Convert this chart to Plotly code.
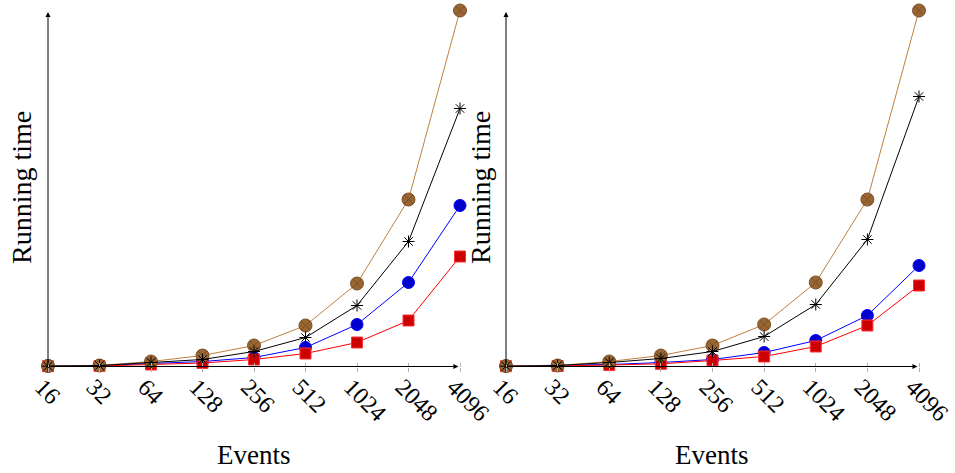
import plotly.graph_objects as go

# ---------------- data ----------------
events = ["16", "32", "64", "128", "256", "512", "1024", "2048", "4096"]

left_blue = [1, 1, 3, 5, 9, 19, 42, 84, 161]
left_red = [0.3, 0.5, 2, 3.5, 7, 13, 24, 46, 110]
left_brown = [0.5, 1, 5, 11, 21, 41, 83, 167, 356]
left_black = [0.3, 1, 4, 7, 15, 29, 61, 125, 258]

right_blue = [0.5, 1, 2, 4, 7, 14, 26, 51, 101]
right_red = [0.3, 0.5, 1.5, 2.7, 6, 10, 20, 41, 81]
right_brown = [0.5, 1, 5, 11, 21, 42, 84, 167, 356]
right_black = [0.3, 1, 4, 8, 15, 30, 62, 127, 270]

# ---------------- styles ----------------
W, H = 955, 473
FONT = "Liberation Serif"
BROWN_LINE = "#BF8040"
BROWN_FILL = "#996633"
idx = list(range(len(events)))

Y0_PX = 366.5
YRANGE = [-(H - Y0_PX), Y0_PX]
AXIS_POS = (H - Y0_PX) / H

fig = go.Figure()


def add_series(xa, ya, blue, red, brown, black):
    common = dict(x=idx, mode="lines+markers", xaxis=xa, yaxis=ya,
                  showlegend=False, cliponaxis=False, hoverinfo="skip")
    fig.add_trace(go.Scatter(y=blue, line=dict(color="#0000FF", width=1),
                             marker=dict(symbol="circle", size=12, color="#0000CC",
                                         line=dict(color="#0000FF", width=1)), **common))
    fig.add_trace(go.Scatter(y=red, line=dict(color="#FF0000", width=1),
                             marker=dict(symbol="square", size=11, color="#CC0000",
                                         line=dict(color="#FF3333", width=1)), **common))
    fig.add_trace(go.Scatter(y=brown, line=dict(color=BROWN_LINE, width=1),
                             marker=dict(symbol="circle-x", size=13, color=BROWN_FILL,
                                         line=dict(color="#7a4f25", width=1)), **common))
    fig.add_trace(go.Scatter(y=black, line=dict(color="black", width=1),
                             marker=dict(symbol="asterisk-open", size=10, color="black",
                                         line=dict(color="black", width=1)), **common))


add_series("x", "y", left_blue, left_red, left_brown, left_black)
add_series("x2", "y2", right_blue, right_red, right_brown, right_black)

# pixel geometry of the two panels
panels = [
    dict(x0=48.0, x1=460.0, dom=(0.0, 0.5)),
    dict(x0=506.0, x1=919.0, dom=(0.5, 1.0)),
]
layout = {}
for k, p in enumerate(panels):
    step = (p["x1"] - p["x0"]) / 8.0
    lo_px, hi_px = p["dom"][0] * W, p["dom"][1] * W
    xr = [(lo_px - p["x0"]) / step, (hi_px - p["x0"]) / step]
    sfx = "" if k == 0 else str(k + 1)
    layout["xaxis" + sfx] = dict(
        domain=list(p["dom"]), range=xr, anchor="free", position=AXIS_POS,
        tickmode="array", tickvals=idx, ticktext=events, tickangle=45,
        ticks="outside", ticklen=4, tickcolor="#b0b0b0", tickwidth=1,
        ticklabelstandoff=-8, ticklabelshift=-6, ticklabeloverflow="allow",
        showline=False, showgrid=False, zeroline=False, automargin=False,
        tickfont=dict(family=FONT, size=24, color="black"), fixedrange=True,
    )
    layout["yaxis" + sfx] = dict(
        domain=[0, 1], range=YRANGE, anchor="x" + sfx, automargin=False,
        showticklabels=False, ticks="", showline=False, showgrid=False,
        zeroline=False, fixedrange=True,
    )
    # inside half of the ticks
    ov = "xaxis" + str(k + 3)
    layout[ov] = dict(
        overlaying="x" + sfx, range=xr, anchor="free", position=AXIS_POS,
        tickmode="array", tickvals=idx, ticks="inside", ticklen=4,
        tickcolor="#b0b0b0", tickwidth=1, showticklabels=False, automargin=False,
        showline=False, showgrid=False, zeroline=False, fixedrange=True,
    )

fig.update_layout(
    width=W, height=H, margin=dict(l=0, r=0, t=0, b=0, autoexpand=False),
    paper_bgcolor="white", plot_bgcolor="white", showlegend=False,
    **layout,
)
# dummy traces to activate overlay axes
fig.add_trace(go.Scatter(x=[], y=[], xaxis="x3", yaxis="y", showlegend=False))
fig.add_trace(go.Scatter(x=[], y=[], xaxis="x4", yaxis="y2", showlegend=False))

annotations = []
for k, sfx in enumerate(["", "2"]):
    xa, ya = "x" + sfx, "y" + sfx
    # y axis arrow
    annotations.append(dict(x=0, y=Y0_PX - 12, ax=0, ay=0, xref=xa, yref=ya,
                            axref=xa, ayref=ya, showarrow=True, arrowhead=2,
                            arrowsize=1, arrowwidth=1, arrowcolor="black", text=""))
    # x axis arrow
    annotations.append(dict(x=7.97, y=0, ax=0, ay=0, xref=xa, yref=ya,
                            axref=xa, ayref=ya, showarrow=True, arrowhead=2,
                            arrowsize=1, arrowwidth=1, arrowcolor="black", text=""))

# axis titles
for cx_px in (21, 480):
    annotations.append(dict(text="Running time", x=cx_px / W, y=1 - 188 / H,
                            xref="paper", yref="paper", showarrow=False, textangle=-90,
                            font=dict(family=FONT, size=28, color="black"),
                            xanchor="center", yanchor="middle"))
for cx_px in (254, 712):
    annotations.append(dict(text="Events", x=cx_px / W, y=1 - 455 / H,
                            xref="paper", yref="paper", showarrow=False,
                            font=dict(family=FONT, size=27, color="black"),
                            xanchor="center", yanchor="middle"))
fig.update_layout(annotations=annotations)

fig.write_html("out.html")
